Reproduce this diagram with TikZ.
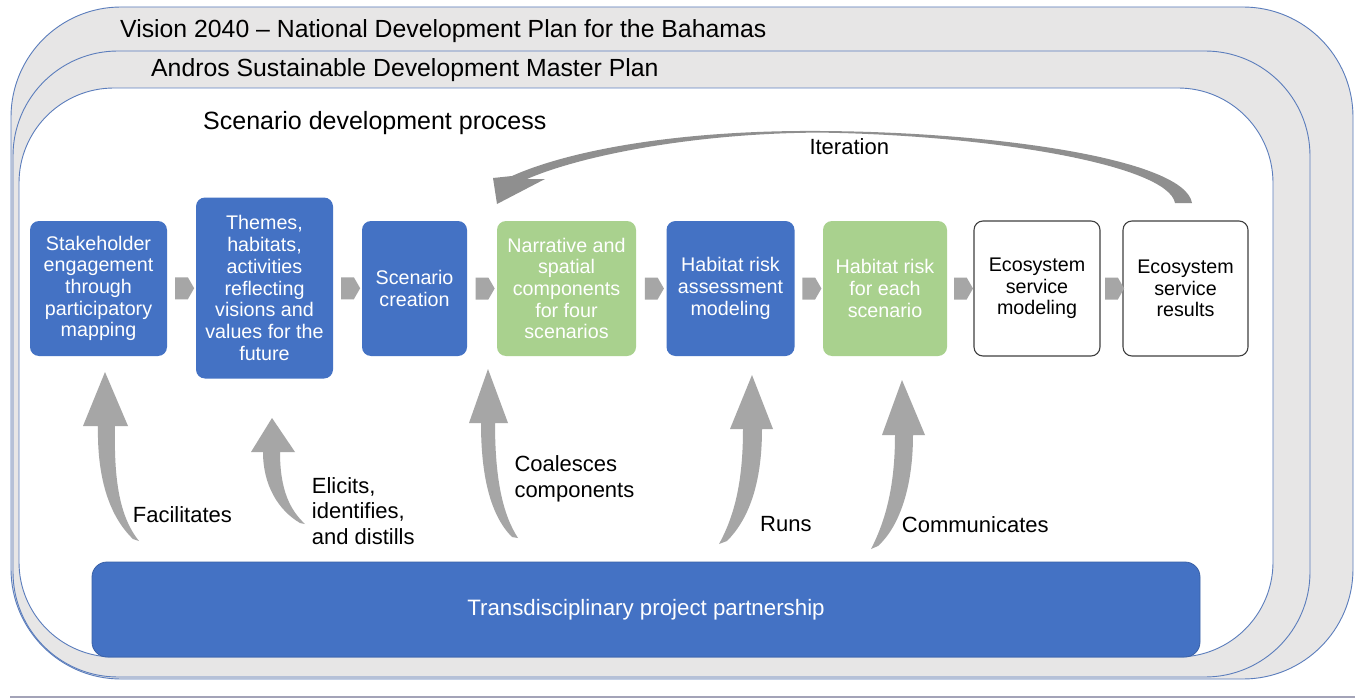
\documentclass[tikz,border=0pt]{standalone}
\usepackage{fontspec}
\setmainfont{Liberation Sans}
\usetikzlibrary{shapes.arrows,calc}
\definecolor{myblue}{HTML}{4472C4}
\definecolor{mygreen}{HTML}{A9D18E}
\definecolor{agray}{HTML}{A6A6A6}
\definecolor{igray}{HTML}{8F8F8F}
\definecolor{bandgray}{HTML}{E7E6E6}
\definecolor{edgeblue}{HTML}{5B7DBC}
\definecolor{sepline}{HTML}{A3A3B8}
\newcommand{\fsz}[2]{\fontsize{#1}{#2}\selectfont}
\begin{document}
\begin{tikzpicture}[x=1pt,y=-1pt,
  outerframe/.style={draw=edgeblue,line width=0.9pt},
  procbox/.style={minimum height=135pt,inner sep=0pt,align=center,font=\fsz{19.7}{21.7},rounded corners=9pt},
  bluebox/.style={procbox,fill=myblue,text=white},
  greenbox/.style={procbox,fill=mygreen,text=white},
  whitebox/.style={procbox,fill=white,draw=black!75,line width=1.1pt,text=black},
  chev/.style={single arrow,single arrow head extend=0pt,single arrow tip angle=120,fill=agray,minimum width=22pt,minimum height=19pt,inner sep=0pt},
  titletext/.style={anchor=base west,inner sep=0pt,font=\fsz{24.8}{28}},
  lbl/.style={anchor=west,inner sep=0pt,align=left,font=\fsz{22}{25.5}},
  upblock/.style={fill=agray,draw=none},
]
\useasboundingbox (0,0) rectangle (1355,698);
\fill[white] (0,0) rectangle (1355,698);

% nested frames
\draw[outerframe,fill=bandgray,rounded corners=110pt] (11,7) rectangle (1353,679);
\draw[outerframe,fill=bandgray,rounded corners=105pt] (13,51) rectangle (1310,677);
\draw[outerframe,fill=white,rounded corners=95pt] (19,88) rectangle (1273,657);
\draw[sepline,line width=1.2pt] (10,697) -- (1355,697);

% titles
\node[titletext] (t1) at (120,37.7) {Vision 2040 – National Development Plan for the Bahamas};
\node[titletext] (t2) at (151,76.7) {Andros Sustainable Development Master Plan};
\node[titletext,font=\fsz{25}{28}] (t3) at (203,129.3) {Scenario development process};

% process boxes
\node[bluebox,minimum width=137pt] (b1) at (98.5,288.5) {Stakeholder\\engagement\\through\\participatory\\mapping};
\node[bluebox,minimum width=137pt,minimum height=181pt] (b2) at (264.5,288) {Themes,\\habitats,\\activities\\reflecting\\visions and\\values for the\\future};
\node[bluebox,minimum width=105pt] (b3) at (414.5,288.5) {Scenario\\creation};
\node[greenbox,minimum width=139pt] (b4) at (566.5,288.5) {Narrative and\\spatial\\components\\for four\\scenarios};
\node[bluebox,minimum width=128pt] (b5) at (730.5,288.5) {Habitat risk\\assessment\\modeling};
\node[greenbox,minimum width=124pt] (b6) at (885,288.5) {Habitat risk\\for each\\scenario};
\node[whitebox,minimum width=126pt] (b7) at (1037,288.5) {Ecosystem\\service\\modeling};
\node[whitebox,minimum width=125pt] (b8) at (1185.5,288.5) {Ecosystem\\service\\results};

% chevrons between boxes
\foreach \a/\b in {b1/b2,b2/b3,b3/b4,b4/b5,b5/b6,b6/b7,b7/b8}
  \node[chev] (c-\a) at ($(\a.east)!0.5!(\b.west)$) {};

% partnership box
\node[fill=myblue,draw=myblue!85!black,line width=0.8pt,rounded corners=15pt,minimum width=1108pt,minimum height=95pt,text=white,font=\fsz{22.3}{26}] (tp) at (646,609.5) {Transdisciplinary project partnership};

% iteration arrow
\fill[igray] (1192,203) .. controls (1185,160) and (1000,132) .. (820,131)
  .. controls (680,130) and (570,150) .. (512,176) -- (493,178) -- (497,204) -- (545,179) -- (527,179)
  .. controls (585,154) and (700,133) .. (820,132.6)
  .. controls (990,135) and (1168,165) .. (1175,203) -- cycle;
\node[lbl,anchor=base west] (l6) at (809.3,154.3) {Iteration};

% upward curved arrows
\fill[upblock] (105,372) -- (128,426) -- (115,426) .. controls (114,475) and (118,515) .. (139,541)
  -- (133,539) .. controls (108,515) and (97,475) .. (98,426) -- (83,426) -- cycle;
\fill[upblock] (272,418) -- (295,452) -- (280,452) .. controls (280,490) and (290,510) .. (305,524)
  -- (300,523) .. controls (278,510) and (263,485) .. (263,452) -- (251,452) -- cycle;
\fill[upblock] (488,369) -- (508,423) -- (495,423) .. controls (495,480) and (503,515) .. (518,538)
  -- (512,537) .. controls (490,515) and (481,475) .. (481,423) -- (469,423) -- cycle;
\fill[upblock] (752,375) -- (773,429) -- (762,429) .. controls (762,485) and (748,520) .. (727,541)
  -- (719,544) .. controls (735,515) and (743,480) .. (743,429) -- (730,429) -- cycle;
\fill[upblock] (902,380) -- (925,435) -- (913,435) .. controls (913,490) and (898,528) .. (878,546)
  -- (871,549) .. controls (886,520) and (895,485) .. (895,435) -- (882,435) -- cycle;

% labels
\node[lbl,anchor=base west] (l1) at (132.7,522) {Facilitates};
\node[lbl] (l2) at (311.7,511) {Elicits,\\identifies,\\and distills};
\node[lbl] (l3) at (514.3,478.7) {Coalesces\\components};
\node[lbl,anchor=base west] (l4) at (760,531) {Runs};
\node[lbl,anchor=base west] (l5) at (901.7,532.7) {Communicates};
\end{tikzpicture}
\end{document}
